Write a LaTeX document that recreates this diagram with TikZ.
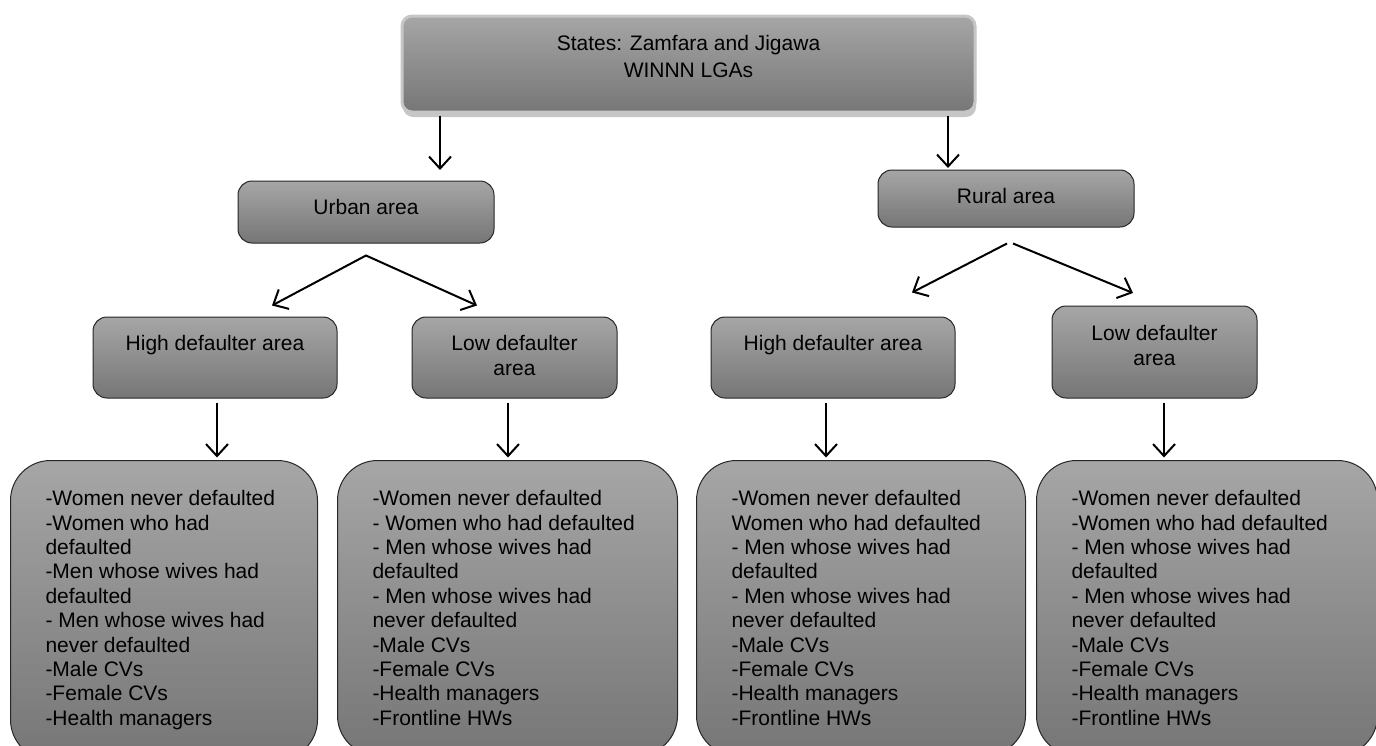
\documentclass[tikz,border=0pt]{standalone}
\usepackage{fontspec}
\setmainfont{Liberation Sans}
\usetikzlibrary{arrows.meta,shadows}
\definecolor{boxtop}{RGB}{166,166,166}
\definecolor{boxbot}{RGB}{118,118,118}
\definecolor{edgegray}{RGB}{198,198,198}

\begin{document}
\begin{tikzpicture}[x=1pt, y=-1pt,
    box/.style={draw=black!85, line width=1pt, rounded corners=14pt,
        top color=boxtop, bottom color=boxbot, align=center,
        font=\fontsize{21}{25}\selectfont},
    textpos/.style n args={3}{text height=#1, text depth=#2, inner ysep=#3},
    hibox/.style={box, minimum width=244pt, textpos={15pt}{29pt}{18.5pt}},
    lobox/.style={box, minimum width=205pt},
    list/.style={box, rounded corners=40pt, align=flush left, anchor=north west,
        inner xsep=35pt, inner ysep=30pt,
        font=\fontsize{21}{24.4}\selectfont},
    arr/.style={line width=2pt, -{Straight Barb[length=12pt,width=22pt]}}]
    \useasboundingbox (0,0) rectangle (1376,745);
    \clip (0,0) rectangle (1376,745);

    % top box
    \node[box, draw=edgegray, line width=3pt, rounded corners=10pt,
        minimum width=573pt, textpos={41.5pt}{15.5pt}{19.5pt},
        font=\fontsize{21}{26.5}\selectfont,
        drop shadow={shadow xshift=1pt, shadow yshift=-5pt, fill=edgegray, opacity=1}]
        (top) at (688.5,64) {States: Zamfara and Jigawa\\WINNN LGAs};

    % areas
    \node[box, minimum width=256pt, textpos={15pt}{11pt}{18pt}] (urban) at (366,212) {Urban area};
    \node[box, minimum width=256pt, textpos={15pt}{5pt}{18.5pt}] (rural) at (1006,198.5) {Rural area};

    % defaulter areas
    \node[hibox] (hiU) at (215,357.5) {High defaulter area};
    \node[lobox, textpos={40pt}{4pt}{18.5pt}] (loU) at (514.5,357.5) {Low defaulter\\area};
    \node[hibox] (hiR) at (833,357.5) {High defaulter area};
    \node[lobox, textpos={40pt}{13pt}{19.5pt}] (loR) at (1154.5,352) {Low defaulter\\area};

    % respondents
    \node[list, text width=237pt] (listA) at (10,460) {-Women never defaulted\\
        -Women who had\\defaulted\\-Men whose wives had\\defaulted\\
        - Men whose wives had\\never defaulted\\-Male CVs\\-Female CVs\\
        -Health managers};
    \node[list, text width=270pt] (listB) at (337,460) {-Women never defaulted\\
        - Women who had defaulted\\- Men whose wives had\\defaulted\\
        - Men whose wives had\\never defaulted\\-Male CVs\\-Female CVs\\
        -Health managers\\-Frontline HWs};
    \node[list, text width=259pt] (listC) at (696,460) {-Women never defaulted\\
        Women who had defaulted\\- Men whose wives had\\defaulted\\
        - Men whose wives had\\never defaulted\\-Male CVs\\-Female CVs\\
        -Health managers\\-Frontline HWs};
    \node[list, text width=271pt] (listD) at (1036,460) {-Women never defaulted\\
        -Women who had defaulted\\- Men whose wives had\\defaulted\\
        - Men whose wives had\\never defaulted\\-Male CVs\\-Female CVs\\
        -Health managers\\-Frontline HWs};

    % arrows
    \coordinate (tl) at ([xshift=-248.5pt]top.south);
    \coordinate (tr) at ([xshift=259.5pt]top.south);
    \draw[arr, shorten <=2pt, shorten >=10.5pt] (tl) -- (tl |- urban.north);
    \draw[arr, shorten <=2pt, shorten >=1.5pt] (tr) -- (tr |- rural.north);

    \coordinate (uA) at ([yshift=-12pt]urban.south);
    \draw[arr, line cap=round] (uA) -- ([xshift=57pt, yshift=11pt]hiU.north);
    \draw[arr, line cap=round] (uA) -- ([xshift=-37.5pt, yshift=11pt]loU.north);
    \draw[arr] ([xshift=1pt, yshift=-16pt]rural.south) -- ([xshift=79pt, yshift=24pt]hiR.north);
    \draw[arr] ([xshift=7pt, yshift=-16pt]rural.south) -- ([xshift=-21.5pt, yshift=12.5pt]loR.north);

    \coordinate (dA) at ([xshift=2pt]hiU.south);
    \coordinate (dB) at ([xshift=-6.5pt]loU.south);
    \coordinate (dC) at ([xshift=-7pt]hiR.south);
    \coordinate (dD) at ([xshift=9.5pt]loR.south);
    \draw[arr, shorten <=4pt, shorten >=2.5pt] (dA) -- (dA |- listA.north);
    \draw[arr, shorten <=4pt, shorten >=2.5pt] (dB) -- (dB |- listB.north);
    \draw[arr, shorten <=4pt, shorten >=2.5pt] (dC) -- (dC |- listC.north);
    \draw[arr, shorten <=4pt, shorten >=2.5pt] (dD) -- (dD |- listD.north);
\end{tikzpicture}
\end{document}
